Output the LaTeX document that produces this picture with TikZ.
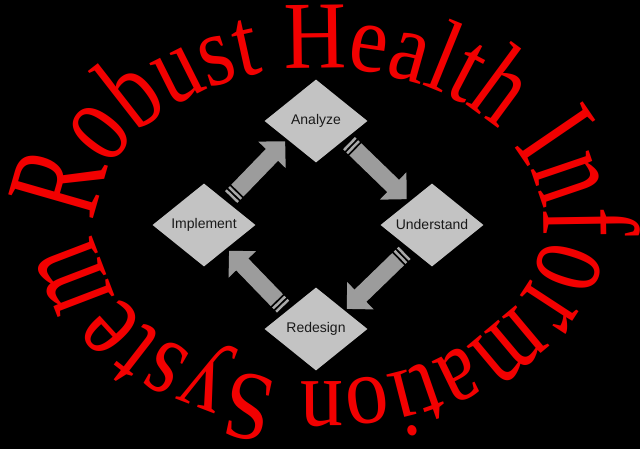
\documentclass[tikz,border=0pt]{standalone}
\usepackage{fontspec}
\setmainfont{Liberation Serif}
\newfontfamily\labelfont{Liberation Sans}
\usetikzlibrary{arrows.meta, positioning, shapes.geometric, calc}
\definecolor{stageGray}{HTML}{C3C3C3}
\definecolor{flowGray}{HTML}{9C9C9C}
\definecolor{tailGray}{HTML}{A8A8A8}
\definecolor{titleRed}{HTML}{F20000}

\tikzset{
  stage/.style={diamond, fill=stageGray, minimum width=103pt, minimum height=83pt,
    inner sep=0pt, text=black!90, font=\labelfont\fontsize{14}{14}\selectfont},
  flow/.style={draw=flowGray, line width=17pt, -{Triangle[width=37pt,length=19pt]},
    shorten <=15pt, shorten >=3pt},
  flowtail/.style={draw=tailGray, line width=17pt,
    dash pattern=on 2.5pt off 2pt on 2.5pt off 1000pt, shorten <=6pt},
  letter/.style={anchor=base, inner sep=0pt, text=titleRed,
    font=\fontsize{96}{96}\selectfont}
}

\begin{document}
\begin{tikzpicture}[x=1pt, y=1pt]
    \useasboundingbox (-320,-224) rectangle (320,225);
    \fill[black] (-320,-224) rectangle (320,225);

    % the four stages
    \node[stage] (ana)  at (-4,104)  {Analyze};
    \node[stage] (und)  at (112,0)   {Understand};
    \node[stage] (red)  at (-4,-104) {Redesign};
    \node[stage] (impl) at (-116,0)  {Implement};

    % block arrows, pushed a little outward
    \foreach \a/\pa/\b/\pb [count=\i] in {impl/north east/ana/south west,
        ana/south east/und/north west, und/south west/red/north east,
        red/north west/impl/south east} {
      \coordinate (s\i) at ($(\a.\pa)!4pt!90:(\b.\pb)$);
      \coordinate (e\i) at ($(\b.\pb)!4pt!-90:(\a.\pa)$);
      \draw[flowtail] (s\i) -- (e\i);
      \draw[flow] (s\i) -- (e\i);
    }

    % title round the ellipse
    \foreach \glph/\ang [count=\i] in {R/168.6, o/151.5, b/138.0, u/125.6, s/115.2,
        t/107.6, H/91.0, e/78.2, a/68.2, l/59.9, t/53.3, h/43.6, I/25.6, n/13.4,
        f/0.6, o/-12.3, r/-24.6, m/-39.9, a/-55.1, t/-63.6, i/-69.9, o/-78.6,
        n/-89.6, S/-106.8, y/-118.8, s/-129.4, t/-137.9, e/-147.4, m/-165.0} {
      \pgfmathsetmacro\tilt{atan2(2.24*sin(\ang),1.57*cos(\ang))-90}
      \pgfmathsetmacro\tall{2.24/sqrt((2.24*sin(\ang))^2+(1.57*cos(\ang))^2)}
      \node[letter, rotate=\tilt, xscale=0.9, yscale=\tall] (ltr\i)
        at ({224*cos(\ang)},{157*sin(\ang)}) {\glph};
    }
\end{tikzpicture}
\end{document}
